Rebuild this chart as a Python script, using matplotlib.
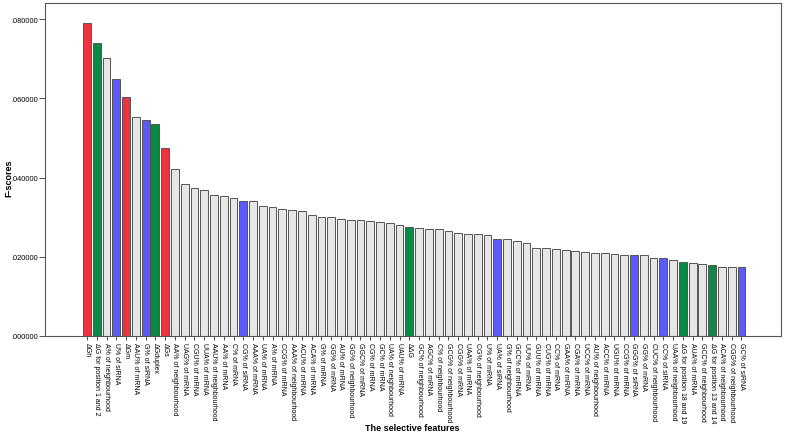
import matplotlib.pyplot as plt
import numpy as np

plt.rcParams['font.family'] = ['Liberation Sans', 'DejaVu Sans']

features = [
    "ΔGh", "ΔG for position 1 and 2", "A% of neighbourhood", "U% of siRNA", "ΔGm",
    "AAU% of mRNA", "G% of siRNA", "ΔGduplex", "ΔGs", "AA% of neighbourhood",
    "UAG% of mRNA", "CGU% of mRNA", "UUA% of mRNA", "AAU% of neighbourhood", "AA% of mRNA",
    "C% of mRNA", "CG% of siRNA", "AAA% of mRNA", "UA% of mRNA", "A% of mRNA",
    "CCG% of mRNA", "AAA% of neighbourhood", "ACU% of mRNA", "ACA% of mRNA", "G% of mRNA",
    "GG% of mRNA", "AU% of mRNA", "GG% of neighbourhood", "GGC% of mRNA", "CG% of mRNA",
    "GC% of mRNA", "UA% of neighbourhood", "UAU% of mRNA", "ΔΔG", "GC% of neighbourhood",
    "AGC% of mRNA", "C% of neighbourhood", "GCG% of neighbourhood", "CGG% of mRNA", "UAA% of mRNA",
    "CG% of neighbourhood", "U% of mRNA", "UA% of siRNA", "G% of neighbourhood", "GCC% of mRNA",
    "UU% of mRNA", "GUU% of mRNA", "CUG% of mRNA", "CC% of mRNA", "GAA% of mRNA",
    "CGA% of mRNA", "UCC% of mRNA", "AU% of neighbourhood", "ACC% of mRNA", "UGU% of mRNA",
    "CCG% of mRNA", "GGG% of siRNA", "GG% of mRNA", "CUC% of neighbourhood", "CC% of siRNA",
    "UAA% of neighbourhood", "ΔG for position 18 and 19", "AUA% of mRNA", "GCC% of neighbourhood",
    "ΔG for position 13 and 14", "ACA% of neighbourhood", "CGG% of neighbourhood", "GC% of siRNA",
]

fscores = [
    0.0790, 0.0740, 0.0701, 0.0650, 0.0604, 0.0553, 0.0545, 0.0535, 0.0475, 0.0421,
    0.0383, 0.0375, 0.0369, 0.0356, 0.0353, 0.0349, 0.0341, 0.0341, 0.0329, 0.0325,
    0.0322, 0.0317, 0.0315, 0.0306, 0.0301, 0.0300, 0.0295, 0.0293, 0.0292, 0.0290,
    0.0287, 0.0285, 0.0281, 0.0276, 0.0272, 0.0270, 0.0269, 0.0265, 0.0259, 0.0258,
    0.0257, 0.0255, 0.0245, 0.0244, 0.0240, 0.0234, 0.0221, 0.0221, 0.0220, 0.0217,
    0.0215, 0.0211, 0.0210, 0.0209, 0.0208, 0.0205, 0.0205, 0.0205, 0.0196, 0.0196,
    0.0192, 0.0188, 0.0184, 0.0182, 0.0179, 0.0175, 0.0175, 0.0174,
]

# r = free energy, g = local free energy, b = siRNA composition, o = other
groups = ("rgobrobgro" + "oooooobooo" + "oooooooooo" + "ooogoooooo"
          + "oobooooooo" + "ooooooboob" + "ogoogoob")

group_colors = {"r": "#ee3340", "g": "#0b8a45", "b": "#5b5bf7", "o": "#e6e6e6"}

fig = plt.figure(figsize=(7.87, 4.35), dpi=100)
ax = fig.add_axes([45 / 787, 98 / 435, 736 / 787, 333 / 435])

x = np.arange(len(features))
colors = [group_colors[g] for g in groups]
ax.bar(x, fscores, width=0.8, color=colors, edgecolor="#555555", linewidth=0.7, zorder=2)

ax.set_xlim(-4.3, len(features) - 1 + 4.05)
ax.set_ylim(0, 0.0841)
ax.set_yticks([0, 0.02, 0.04, 0.06, 0.08])
ax.set_yticklabels([".000000", ".020000", ".040000", ".060000", ".080000"], fontsize=5.3)
ax.set_xticks(x)
ax.set_xticklabels(features, rotation=-90, fontsize=5, ha="center", va="top")
ax.tick_params(axis="x", length=3, width=0.6, color="#333333", pad=1)
ax.tick_params(axis="y", length=4, width=0.6, color="#333333", pad=1)

for s in ax.spines.values():
    s.set_color("#555555")
    s.set_linewidth(0.8)

fig.text(9 / 787, 1 - 178 / 435, "F-scores", rotation=90, ha="center", va="center",
         fontsize=6.5, fontweight="bold")
fig.text(412 / 787, 6 / 435, "The selective features", ha="center", va="center",
         fontsize=6.5, fontweight="bold")

fig.savefig("out.png", dpi=100)
